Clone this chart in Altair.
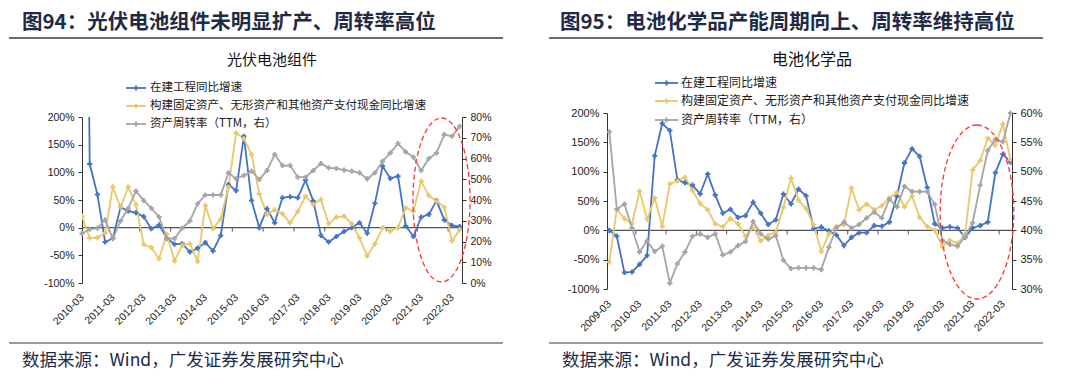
import json
import altair as alt
import pandas as pd

# ---------------- data ----------------
S_CIP = "在建工程同比增速"
S_CAPEX = "构建固定资产、无形资产和其他资产支付现金同比增速"
S_TURN = "资产周转率（TTM，右）"

# Panel 1: 光伏电池组件 (quarterly 2010-03 .. 2022-06)
pv_quarters = [f"{y}-{m:02d}" for y in range(2010, 2023) for m in (3, 6, 9, 12)][:50]
pv_year_labels = [f"{y}-03" for y in range(2010, 2023)]
pv_cip = [1500, 115, 60, -26, -19, 37, 30, 27, 20, -2,
          5, -19, -30, -29, -44, -37, -27, -42, -14, 78,
          67, 165, 49, 0, 34, 9, 54, 56, 54, 86,
          48, -14, -26, -16, -7, 0, 9, -10, 44, 111,
          89, 93, 3, -16, 19, 24, 49, 14, 4, 2]
pv_capex = [20.5, -18.7, -18, -9.6, 73.5, 37, 73.5, 41.6, -30, -36,
            -56, -12, -60, -32, -29, -61, 40, -2, 16, 73.5,
            171, 161, 132, 61, 24, 32.5, 25, 8.4, 29.5, 56.6,
            42, 50.6, 7, 19, 20.5, 7, -18.7, -51, -29, 0,
            -6.6, 0, 36, 29.5, 84, 58, 48, 37, -24, -3.6]
pv_turn = [23.8, 25.9, 26.4, 30.4, 21.4, 29.9, 36, 44.3, 39.8, 36,
           31.8, 21.4, 21.4, 26.4, 29.9, 38.2, 42.4, 42.4, 42.4, 53.1,
           50.2, 51.8, 53.9, 49.9, 54.2, 61.9, 56.6, 56.6, 51, 51,
           54.2, 57.6, 55.5, 55.2, 54.4, 53.9, 53.1, 50.2, 53.1, 58.7,
           62.7, 67.2, 63.2, 60.6, 54.2, 60, 62.7, 71.5, 70.7, 75.5]

# Panel 2: 电池化学品 (quarterly 2009-03 .. 2022-06)
ch_quarters = [f"{y}-{m:02d}" for y in range(2009, 2023) for m in (3, 6, 9, 12)][:54]
ch_year_labels = [f"{y}-03" for y in range(2009, 2023)]
ch_cip = [0, -10, -72, -71, -58, -43, 127, 182, 170, 86,
          81, 77, 62, 96, 60, 29, 36, 22, 25, 48,
          29, 10, 18, 62, 45, 70, 59, 3, 5.5, -1,
          -8, -26, -12, -4, -4, 8, 7, 14, 58, 115,
          139, 126, 73, 11, 4, 6, 4, -12, 4, 8,
          14, 98, 130, 116]
ch_capex = [-54, 36, 20, 11, 67, 19, 55, 7, 79, 84,
            90, 68, 46, 35, 11, 6, 20, 11, -10, 5,
            -18, -8.5, -3, 39, 89, 51, 37, 9, -36, -6,
            7, 9.7, 72, 35, 45, 35, 42, 55, 65, 40,
            58, 22, 7, 0, -28, -17, -22, -7, 103, 119,
            157, 145, 181, 120]
ch_turn = [56.8, 43.6, 44.5, 40.4, 36.3, 38.2, 36.4, 37.3, 31, 34.3,
           36.3, 39, 39.4, 38.8, 39.4, 35.8, 36.3, 37.4, 38.1, 41.5,
           39.4, 38.5, 39.1, 34.9, 33.5, 33.6, 33.6, 33.6, 33.3, 37.1,
           40.4, 41.4, 40.4, 41, 42.1, 43.1, 42.1, 45.3, 44, 47.5,
           46.6, 46.6, 46.6, 44.4, 38.3, 37.6, 37.3, 38.9, 41.3, 47.7,
           53.6, 55.5, 55.1, 60]

# ---------------- style ----------------
BLUE = "#4472C4"
YELLOW = "#E8C86A"
GRAY = "#A5A5A5"
RED = "#FF3333"
NAVY = "#1F2B46"
AXIS = "#333333"
CJK = "Noto Sans CJK SC"
LAT = "Liberation Sans"
ELLIPSE = "M0,-1 A{r},1 0 1,1 0,1 A{r},1 0 1,1 0,-1 Z"
MSIZE = 26

base = pd.DataFrame({"a": [0]})


def txt(s, x, y, size, color, weight="normal", align="left", font=CJK):
    return alt.Chart(base).mark_text(
        text=s, font=font, fontSize=size, fontWeight=weight, color=color,
        align=align, baseline="middle"
    ).encode(x=alt.value(x), y=alt.value(y))


def hline(x0, x1, y, color, w):
    return alt.Chart(base).mark_rule(color=color, strokeWidth=w).encode(
        x=alt.value(x0), x2=alt.value(x1), y=alt.value(y))


def build_panel(quarters, cip, capex, turn, year_labels, fig_title, sub_title, L):
    n = len(quarters)
    nb = len(year_labels)
    lines_df = pd.DataFrame({
        "i": list(range(n)) * 2,
        "q": quarters * 2,
        "v": cip + capex,
        "s": [S_CIP] * n + [S_CAPEX] * n,
    })
    turn_df = pd.DataFrame({"i": list(range(n)), "q": quarters, "v": turn})
    bnd_df = pd.DataFrame({"b": [4 * k - 0.5 for k in range(1, nb)]})
    bnd_df["y0"] = 0
    bnd_df["y1"] = -7
    zero_df = pd.DataFrame({"z": [0]})

    def xs():
        return alt.Scale(domain=L["xdom"], nice=False, zero=False)

    def ls():
        kw = dict(domain=[-100, 200], nice=False, zero=False)
        if L.get("yrange"):
            kw["range"] = L["yrange"]
        return alt.Scale(**kw)

    def rs():
        kw = dict(domain=L["rdom"], nice=False, zero=False)
        if L.get("yrange"):
            kw["range"] = L["yrange"]
        return alt.Scale(**kw)

    ax_common = dict(grid=False, title=None, domainColor=AXIS, domainWidth=1,
                     tickColor=AXIS, tickWidth=1, tickSize=4, labelPadding=4,
                     labelFont=LAT, labelFontSize=L["yfs"], labelColor="#222222")

    x_axis = alt.Axis(
        values=[4 * k for k in range(nb)],
        labelExpr=f"{json.dumps(year_labels)}[round(datum.value / 4)]",
        labelAngle=-45, labelAlign="right", labelBaseline="middle",
        labelPadding=L["xpad"], labelFont=LAT, labelFontSize=10.5,
        labelColor="#222222", ticks=False, tickSize=0, domain=False,
        grid=False, title=None, labelOverlap=False, offset=L["xoff"])

    zero = alt.Chart(zero_df).mark_rule(color="#555555", strokeWidth=1.3).encode(
        y=alt.Y("z:Q", scale=ls(), axis=None))
    ticks = alt.Chart(bnd_df).mark_rule(color="#555555", strokeWidth=1).encode(
        x=alt.X("b:Q", scale=xs(), axis=None),
        y=alt.Y("y0:Q", scale=ls(), axis=None),
        y2="y1:Q")
    lines = alt.Chart(lines_df).mark_line(
        strokeWidth=1.8, clip=True,
        point=alt.OverlayMarkDef(shape="cross", size=MSIZE, filled=True, opacity=1, clip=True)
    ).encode(
        x=alt.X("i:Q", scale=xs(), axis=x_axis),
        y=alt.Y("v:Q", scale=ls(), axis=alt.Axis(
            orient="left", values=list(range(-100, 201, 50)),
            labelExpr="datum.value + '%'", **ax_common)),
        color=alt.Color("s:N", scale=alt.Scale(domain=[S_CIP, S_CAPEX], range=[BLUE, YELLOW]),
                        legend=None),
        order="i:Q",
    )

    gray = alt.Chart(turn_df).mark_line(
        color=GRAY, strokeWidth=1.8,
        point=alt.OverlayMarkDef(shape="cross", size=MSIZE, filled=True, opacity=1, color=GRAY)
    ).encode(
        x=alt.X("i:Q", scale=xs(), axis=None),
        y=alt.Y("v:Q", scale=rs(), axis=alt.Axis(
            orient="right", values=L["rvalues"], labelExpr="datum.value + '%'", **ax_common)),
    )

    bx0, bx1, by0, by1 = L["bg"]
    bg = alt.Chart(base).mark_rect(opacity=0).encode(
        x=alt.value(bx0), x2=alt.value(bx1), y=alt.value(by0), y2=alt.value(by1))

    layers = [bg,
              txt(fig_title, L["header"][0], L["header"][1], 20.5, NAVY, weight="bold"),
              hline(*L["hline"], "#3a3a3a", 1.5),
              txt(sub_title, L["subtitle"][0], L["subtitle"][1], L["subtitle"][2], "#111111",
                  align="center"),
              zero, ticks, lines, gray]

    ex, ey, er, esz = L["ellipse"]
    layers.append(alt.Chart(base).mark_point(
        shape=ELLIPSE.format(r=er), size=esz, filled=False, color=RED,
        strokeWidth=1.3, strokeDash=[5, 3], opacity=1
    ).encode(x=alt.value(ex), y=alt.value(ey)))

    lx0, lx1, lm, lt = L["legend_x"]
    for label, col, ly in zip([S_CIP, S_CAPEX, S_TURN], [BLUE, YELLOW, GRAY], L["legend_y"]):
        layers.append(hline(lx0, lx1, ly, col, 1.8))
        layers.append(alt.Chart(base).mark_point(
            shape="cross", size=MSIZE, filled=True, color=col, opacity=1
        ).encode(x=alt.value(lm), y=alt.value(ly)))
        layers.append(txt(label, lt, ly, L["legend_fs"], "#1a1a1a"))

    layers.append(hline(*L["sline"], "#3a3a3a", 1.2))
    layers.append(txt("数据来源：Wind，广发证券发展研究中心", L["source"][0], L["source"][1], 17.5, NAVY))

    return alt.layer(*layers).resolve_scale(x="independent", y="independent").properties(
        width=L["w"], height=L["h"])


L1 = dict(w=380, h=166, xdom=[0, 49.3], rdom=[0, 80], rvalues=list(range(0, 81, 10)),
          yrange=None, xoff=0, xpad=12.5, yfs=10.5,
          bg=(-74, 458, -109, 255), header=(-60, -94.5), hline=(-73, 421, -79),
          subtitle=(190, -57, 15), legend_x=(44, 64, 54, 68), legend_y=[-29, -11, 7],
          legend_fs=11.5, ellipse=(359.5, 83, 0.348, 26896), source=(-60, 244),
          sline=(-73, 421, 226))

L2 = dict(w=405, h=166, xdom=[-0.3, 53.2], rdom=[30, 60], rvalues=list(range(30, 61, 5)),
          yrange=[172, -4], xoff=6, xpad=13, yfs=11,
          bg=(-67, 465, -109, 255), header=(-47, -94.5), hline=(-58, 436, -79),
          subtitle=(205, -57, 16), legend_x=(48, 71, 59.5, 74), legend_y=[-34, -16, 3],
          legend_fs=12, ellipse=(370, 95, 0.423, 30276), source=(-45, 244),
          sline=(-58, 436, 226))

p1 = build_panel(pv_quarters, pv_cip, pv_capex, pv_turn, pv_year_labels,
                 "图94：光伏电池组件未明显扩产、周转率高位", "光伏电池组件", L1)
p2 = build_panel(ch_quarters, ch_cip, ch_capex, ch_turn, ch_year_labels,
                 "图95：电池化学品产能周期向上、周转率维持高位", "电池化学品", L2)

chart = alt.hconcat(p1, p2, spacing=0).properties(
    padding=0, background="white"
).configure_view(strokeWidth=0)

chart.save("out.html", embed_options={"renderer": "svg", "actions": False})
